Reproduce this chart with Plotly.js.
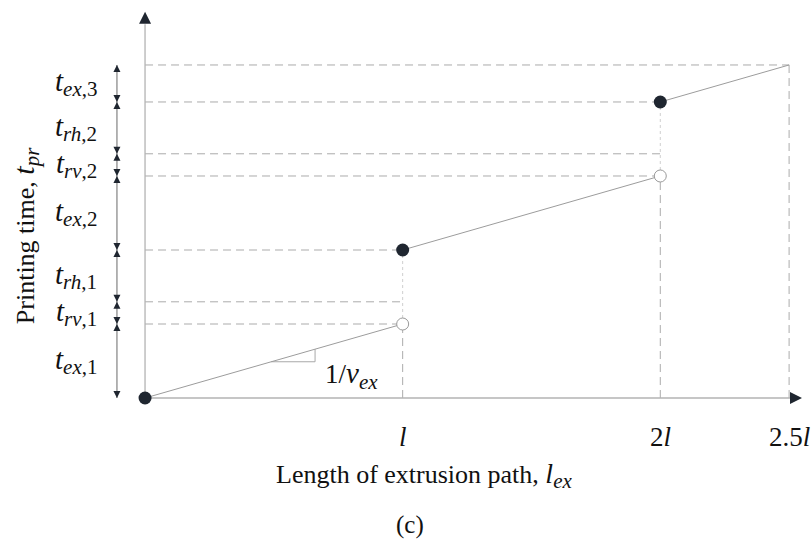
<!DOCTYPE html>
<html>
<head>
<meta charset="utf-8">
<script src="https://cdn.plot.ly/plotly-3.0.1.min.js"></script>
<style>
  html, body { margin: 0; padding: 0; background: #fff; }
  #chart { width: 811px; height: 545px; }
</style>
</head>
<body>
<div id="chart"></div>
<script>
// Extrusion path length in units of l, printing time in units of t_ex,1
const xTickVals = [1, 2, 2.5];
const xTickText = ['<i>l</i>', '2<i>l</i>', '2.5<i>l</i>'];

// Three extrusion segments of the printing path
const segStartX = [0, 1, 2];
const segEndX = [1, 2, 2.5];
const segStartT = [0, 2, 4];
const segEndT = [1, 3, 4.5];

// Phases stacked along the time axis: symbol subscript and index
const phaseKind = ['ex', 'rv', 'rh', 'ex', 'rv', 'rh', 'ex'];
const phaseIndex = ['1', '1', '1', '2', '2', '2', '3'];
const phaseFrom = [0, 1, 1.3, 2, 3, 3.3, 4];
const phaseTo = [1, 1.3, 2, 3, 3.3, 4, 4.5];

// Horizontal guide levels and where each guide stops
const guideLevels = [1, 1.3, 2, 3, 3.3, 4, 4.5];
const guideEndX = [1, 1, 1, 2, 2, 2, 2.5];

// Slope marker under the first segment
const slopeFrom = 0.49;
const slopeTo = 0.66;

const FONT = 'Liberation Serif, Times New Roman, serif';
const DARK = '#1f2630';
const SUB = 'font-size:21px';

// math symbol with a subscript, e.g. t_ex,1
function mathSym(sym, sub, symSize) {
  return '<span style="font-size:' + symSize + 'px"><i>' + sym + '</i></span>' +
         '<sub><span style="' + SUB + '">' + sub + '</span></sub>';
}

// helpers for null-separated polylines
function segs(pairs) {
  const x = [], y = [];
  pairs.forEach(p => { x.push(p[0], p[2], null); y.push(p[1], p[3], null); });
  return { x, y };
}

// dashed guides: horizontal from the time axis, vertical down to the length axis
const hGuides = segs(guideLevels.map((lv, i) => [0, lv, guideEndX[i], lv]));
const vGuides = segs(segEndX.map((x, i) => [x, 0, x, segEndT[i]]));
const dashX = hGuides.x.concat(vGuides.x);
const dashY = hGuides.y.concat(vGuides.y);

// dotted jumps between the end of one segment and the start of the next
const jumps = segs(segEndX.slice(0, 2).map((x, i) => [x, segEndT[i], segStartX[i + 1], segStartT[i + 1]]));

// extrusion segments
const lines = segs(segStartX.map((x, i) => [x, segStartT[i], segEndX[i], segEndT[i]]));

// slope triangle
const slope = segs([[slopeFrom, slopeFrom, slopeTo, slopeFrom], [slopeTo, slopeFrom, slopeTo, slopeTo]]);

// dimension line on the left
const dimX = -0.109;
const dimTop = phaseTo[phaseTo.length - 1];

const yAxisTop = 5.22;
const xAxisEnd = 2.56;

const traces = [
  { x: dashX, y: dashY, mode: 'lines', line: { color: '#ababab', width: 1, dash: '8px,5px' }, hoverinfo: 'skip' },
  { x: jumps.x, y: jumps.y, mode: 'lines', line: { color: '#cfcfcf', width: 1, dash: 'dot' }, hoverinfo: 'skip' },
  { x: slope.x, y: slope.y, mode: 'lines', line: { color: '#a8a8a8', width: 1 }, hoverinfo: 'skip' },
  // axes
  { x: [0, 0, null, 0, xAxisEnd - 0.045], y: [0, yAxisTop - 0.17, null, 0, 0], mode: 'lines',
    line: { color: '#b3b3b3', width: 1.3 }, hoverinfo: 'skip' },
  { x: [0], y: [yAxisTop], mode: 'markers', marker: { symbol: 'arrow-up', size: 12, color: DARK }, hoverinfo: 'skip' },
  { x: [xAxisEnd - 0.01], y: [0], mode: 'markers', marker: { symbol: 'arrow-right', size: 12, color: DARK }, hoverinfo: 'skip' },
  // dimension line
  { x: [dimX, dimX], y: [0, dimTop], mode: 'lines', line: { color: '#6a6a6a', width: 1 }, hoverinfo: 'skip' },
  { x: phaseFrom.map(() => dimX), y: phaseFrom, mode: 'markers', marker: { symbol: 'arrow-down', size: 7, color: DARK }, hoverinfo: 'skip' },
  { x: phaseTo.map(() => dimX), y: phaseTo, mode: 'markers', marker: { symbol: 'arrow-up', size: 7, color: DARK }, hoverinfo: 'skip' },
  // extrusion segments
  { x: lines.x, y: lines.y, mode: 'lines', line: { color: '#9c9c9c', width: 1 }, hoverinfo: 'skip' },
  // segment ends (open) and starts (filled)
  { x: segEndX.slice(0, 2), y: segEndT.slice(0, 2), mode: 'markers',
    marker: { symbol: 'circle', size: 12, color: '#ffffff', line: { color: '#9a9a9a', width: 1 } }, hoverinfo: 'skip' },
  { x: segStartX, y: segStartT, mode: 'markers',
    marker: { symbol: 'circle', size: 13, color: DARK, line: { width: 0 } }, hoverinfo: 'skip' }
];

const annotations = [];
xTickVals.forEach((v, i) => {
  annotations.push({ x: v, y: -0.53, text: xTickText[i], showarrow: false, xanchor: 'center', yanchor: 'middle',
    font: { family: FONT, size: 27, color: '#111' } });
});
phaseKind.forEach((k, i) => {
  annotations.push({ x: -0.18, y: (phaseFrom[i] + phaseTo[i]) / 2, showarrow: false,
    text: mathSym('t', '<i>' + k + '</i>,' + phaseIndex[i], 29),
    xanchor: 'right', yanchor: 'middle', font: { family: FONT, size: 25, color: '#111' } });
});
annotations.push({ x: 1.083, y: -1.05, showarrow: false,
  text: 'Length of extrusion path, ' + mathSym('l', '<i>ex</i>', 28),
  xanchor: 'center', yanchor: 'middle', font: { family: FONT, size: 26, color: '#111' } });
annotations.push({ x: 1.03, y: -1.71, text: '(c)', showarrow: false,
  xanchor: 'center', yanchor: 'middle', font: { family: FONT, size: 25, color: '#111' } });
annotations.push({ x: -0.466, y: 2.2, showarrow: false, textangle: -90,
  text: 'Printing time, ' + mathSym('t', '<i>pr</i>', 30),
  xanchor: 'center', yanchor: 'middle', font: { family: FONT, size: 26, color: '#111' } });
annotations.push({ x: 0.80, y: 0.30, showarrow: false,
  text: '<span style="font-size:27px">1/</span>' + mathSym('v', '<i>ex</i>', 29),
  xanchor: 'center', yanchor: 'middle', font: { family: FONT, size: 27, color: '#111' } });

const layout = {
  width: 811, height: 545,
  margin: { l: 0, r: 0, t: 0, b: 0 },
  paper_bgcolor: '#fff', plot_bgcolor: '#fff',
  showlegend: false,
  xaxis: { range: [-0.563, 2.585], visible: false, fixedrange: true },
  yaxis: { range: [-1.986, 5.378], visible: false, fixedrange: true },
  annotations: annotations
};

traces.forEach(t => { t.type = 'scatter'; t.cliponaxis = false; });
Plotly.newPlot('chart', traces, layout, { staticPlot: true });
</script>
</body>
</html>
